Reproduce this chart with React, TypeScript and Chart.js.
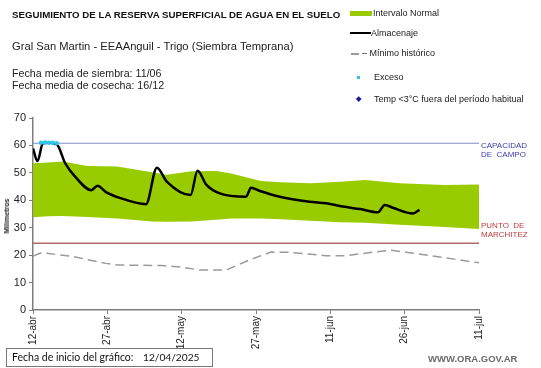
import React, { useEffect, useRef } from "react";
import { Chart, registerables } from "chart.js";

Chart.register(...registerables);

// ---- data ----
const xTickLabels = ["12-abr", "27-abr", "12-may", "27-may", "11-jun", "26-jun", "11-jul"];
const xTickStep = 15;

const bandDays = [0, 3, 6, 11, 17, 24, 27, 32, 37, 40, 46, 50, 56, 62, 67, 74, 83, 90];
const bandUpper = [53.5, 53.8, 54.1, 52.5, 52.3, 50.2, 49.3, 50.6, 50.7, 49.8, 47.0, 46.6, 46.2, 46.8, 47.4, 46.2, 45.6, 45.8];
const bandLower = [33.8, 34.2, 34.3, 33.9, 33.4, 32.3, 32.2, 32.3, 32.9, 33.4, 33.4, 33.1, 32.5, 32.0, 31.8, 31.1, 30.3, 29.5];

const minDays = [0, 1.7, 8, 14.7, 17, 26, 30, 33.6, 39, 43.6, 48, 52, 59, 63, 72, 76, 90];
const minValues = [19.7, 20.9, 19.5, 17.0, 16.4, 16.2, 15.6, 14.6, 14.6, 18.2, 21.1, 21.0, 19.8, 19.8, 21.8, 20.9, 17.2];

const storageDays = [0, 0.9, 2, 3, 4.8, 6.5, 8.5, 11.8, 13, 14.8, 17.5, 22.8, 25, 27, 31.8, 33.2, 35, 37.7, 43, 44, 45.8, 49.8, 55.8, 59.2, 62.5, 66, 69.6, 71, 72.6, 76.7, 78];
const storageValues = [58.9, 54.3, 60.8, 61.0, 60.4, 53.5, 48.6, 43.7, 45.3, 42.9, 40.9, 38.6, 51.9, 46.8, 41.9, 50.8, 45.6, 42.5, 41.3, 44.6, 43.4, 41.3, 39.5, 38.9, 37.7, 36.8, 35.6, 38.3, 37.3, 35.2, 36.5];

const excessDays = [1.6, 2.4, 3.2, 4.0, 4.8];
const excessValues = [61, 61.1, 61, 61, 60.8];

const fieldCapacity = 60.8;
const wiltingPoint = 24.3;
const xRange = [0, 90];

const pts = (xs: number[], ys: number[]) => xs.map((x, i) => ({ x, y: ys[i] }));

const FONT = "'Liberation Sans', Arial, sans-serif";

export default function App() {
  const ref = useRef<HTMLCanvasElement>(null);
  useEffect(() => {
    if (!ref.current) return;
    const chart = new Chart(ref.current, {
      type: "line",
      data: {
        datasets: [
          {
            label: "lower",
            data: pts(bandDays, bandLower),
            borderWidth: 0,
            pointRadius: 0,
            fill: false,
            order: 6,
          },
          {
            label: "Intervalo Normal",
            data: pts(bandDays, bandUpper),
            borderWidth: 0,
            pointRadius: 0,
            backgroundColor: "#99cc00",
            fill: 0,
            order: 5,
          },
          {
            label: "cap",
            data: pts(xRange, [fieldCapacity, fieldCapacity]),
            borderColor: "#8090c8",
            borderWidth: 1.2,
            pointRadius: 0,
            order: 4,
          },
          {
            label: "marchitez",
            data: pts(xRange, [wiltingPoint, wiltingPoint]),
            borderColor: "#b46a6a",
            borderWidth: 1.5,
            pointRadius: 0,
            order: 3,
          },
          {
            label: "Mínimo histórico",
            data: pts(minDays, minValues),
            borderColor: "#9a9a9a",
            borderWidth: 1.5,
            borderDash: [9, 5],
            pointRadius: 0,
            order: 2,
          },
          {
            label: "Almacenaje",
            data: pts(storageDays, storageValues),
            borderColor: "#000000",
            borderWidth: 2.5,
            pointRadius: 0,
            cubicInterpolationMode: "monotone",
            order: 1,
          },
          {
            label: "Exceso",
            data: pts(excessDays, excessValues),
            borderColor: "#33c6e8",
            backgroundColor: "#33c6e8",
            borderWidth: 2,
            borderDash: [3, 2],
            pointRadius: 1.2,
            order: 0,
          },
        ],
      },
      options: {
        animation: false,
        responsive: false,
        maintainAspectRatio: false,
        layout: { padding: { left: 0, right: 62, top: 118, bottom: 0 } },
        plugins: { legend: { display: false }, tooltip: { enabled: false } },
        scales: {
          x: {
            type: "linear",
            min: xRange[0],
            max: xRange[1],
            afterFit: (s: any) => {
              s.height = 58;
            },
            afterBuildTicks: (s: any) => {
              s.ticks = xTickLabels.map((_, i) => ({ value: i * xTickStep }));
            },
            ticks: {
              stepSize: xTickStep,
              minRotation: 90,
              maxRotation: 90,
              autoSkip: false,
              padding: 2,
              color: "#222",
              font: { family: FONT, size: 10 },
              callback: (v: any) => xTickLabels[Math.round(Number(v) / xTickStep)] ?? "",
            },
            grid: { display: true, drawOnChartArea: false, tickLength: 4, color: "#7f7f7f", lineWidth: 1 },
            border: { color: "#7f7f7f", width: 1.5 },
          },
          y: {
            min: 0,
            max: 70,
            afterFit: (s: any) => {
              s.width = 33;
            },
            ticks: {
              stepSize: 10,
              padding: 3,
              color: "#222",
              font: { family: FONT, size: 11 },
            },
            grid: { display: true, drawOnChartArea: false, tickLength: 4, color: "#7f7f7f", lineWidth: 1 },
            border: { color: "#7f7f7f", width: 1.5 },
          },
        },
      },
    });
    return () => chart.destroy();
  }, []);

  const abs = (left: number, top: number, extra: React.CSSProperties = {}): React.CSSProperties => ({
    position: "absolute",
    left,
    top,
    whiteSpace: "nowrap",
    fontFamily: FONT,
    ...extra,
  });

  return (
    <div style={{ position: "fixed", left: 0, top: 0, width: 541, height: 368, background: "#fff", overflow: "hidden" }}>
      <canvas ref={ref} width={541} height={368} style={{ position: "absolute", left: 0, top: 0, width: 541, height: 368 }} />

      <div style={abs(12, 10, { fontSize: 9.7, lineHeight: "10px", fontWeight: "bold", color: "#111" })}>
        SEGUIMIENTO DE LA RESERVA SUPERFICIAL DE AGUA EN EL SUELO
      </div>
      <div style={abs(12, 39.5, { fontSize: 11.2, lineHeight: "12px", color: "#222" })}>
        Gral San Martin - EEAAnguil - Trigo (Siembra Temprana)
      </div>
      <div style={abs(12, 66.5, { fontSize: 10.7, lineHeight: "12px", color: "#222" })}>Fecha media de siembra: 11/06</div>
      <div style={abs(12, 78.5, { fontSize: 10.7, lineHeight: "12px", color: "#222" })}>Fecha media de cosecha: 16/12</div>

      {/* legend */}
      <div style={{ position: "absolute", left: 350, top: 11, width: 22, height: 5, background: "#99cc00" }} />
      <div style={abs(373, 8, { fontSize: 9, lineHeight: "10px", color: "#222" })}>Intervalo Normal</div>
      <div style={{ position: "absolute", left: 350, top: 32, width: 21, height: 2, background: "#000" }} />
      <div style={abs(371, 28, { fontSize: 9, lineHeight: "10px", color: "#222" })}>Almacenaje</div>
      <div style={{ position: "absolute", left: 351, top: 53, width: 8, height: 1.5, background: "#9a9a9a" }} />
      <div style={abs(362, 48, { fontSize: 9, lineHeight: "10px", color: "#222" })}>– Mínimo histórico</div>
      <div style={{ position: "absolute", left: 357, top: 76, width: 3, height: 3, background: "#33c6e8" }} />
      <div style={abs(374, 72, { fontSize: 9, lineHeight: "10px", color: "#222" })}>Exceso</div>
      <div style={{ position: "absolute", left: 357, top: 97, width: 3.5, height: 3.5, background: "#1a1aa0", transform: "rotate(45deg)" }} />
      <div style={abs(374, 94, { fontSize: 9, lineHeight: "10px", color: "#222" })}>Temp &lt;3°C fuera del período habitual</div>

      {/* right annotations */}
      <div style={abs(481, 140.5, { fontSize: 8, lineHeight: "9px", color: "#3a3aaa" })}>
        CAPACIDAD
        <br />
        DE&nbsp;&nbsp;CAMPO
      </div>
      <div style={abs(481, 220.5, { fontSize: 8, lineHeight: "9px", color: "#c03a3a" })}>
        PUNTO&nbsp;&nbsp;DE
        <br />
        MARCHITEZ
      </div>

      {/* y title */}
      <div
        style={abs(7, 216, {
          fontSize: 7,
          lineHeight: "8px",
          fontWeight: "bold",
          color: "#222",
          transform: "translate(-50%, -50%) rotate(-90deg)",
        })}
      >
        Milímetros
      </div>

      {/* bottom box */}
      <div
        style={{
          position: "absolute",
          left: 6,
          top: 348,
          width: 205,
          height: 17,
          border: "1px solid #777",
          boxSizing: "content-box",
        }}
      />
      <div style={abs(12, 351, { fontSize: 10.5, lineHeight: "13px", color: "#111", fontFamily: "Lato, sans-serif" })}>
        Fecha de inicio del gráfico:
      </div>
      <div style={abs(143, 351, { fontSize: 10.2, lineHeight: "13px", color: "#111", fontFamily: "Lato, sans-serif" })}>
        12/04/2025
      </div>
      <div style={abs(428, 354, { fontSize: 9.5, lineHeight: "10px", fontWeight: "bold", color: "#6a6a6a" })}>
        WWW.ORA.GOV.AR
      </div>
    </div>
  );
}
